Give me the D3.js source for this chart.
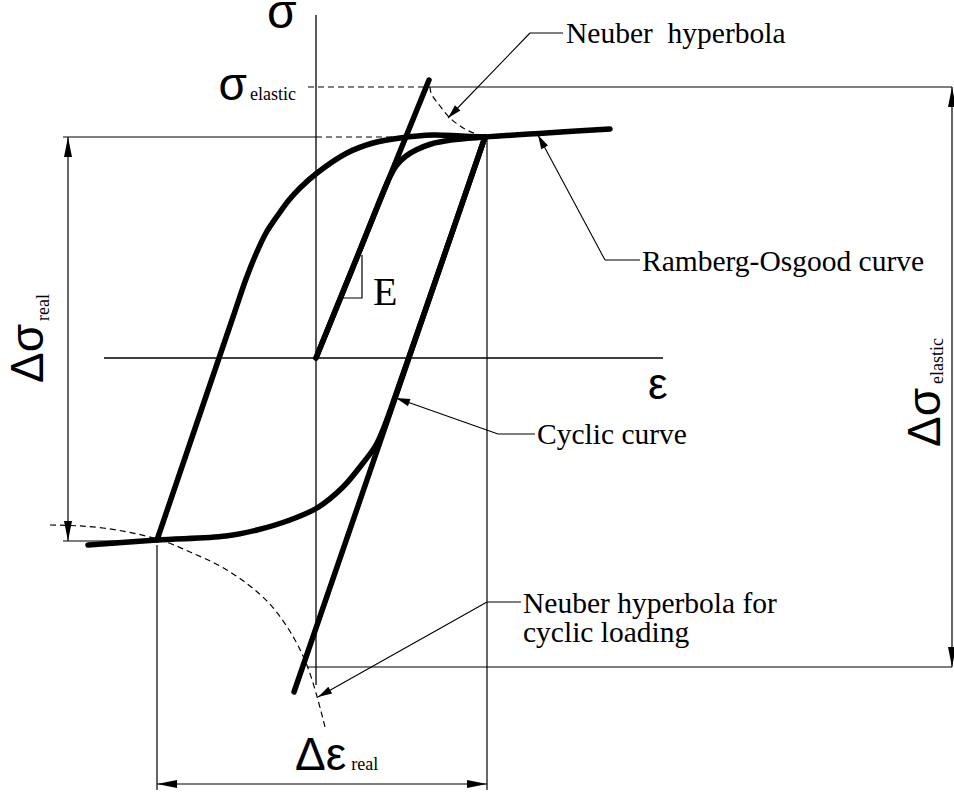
<!DOCTYPE html>
<html>
<head>
<meta charset="utf-8">
<script src="https://cdn.jsdelivr.net/npm/d3@7"></script>
<style>
  html, body { margin: 0; padding: 0; background: #fff; }
  svg { display: block; }
</style>
</head>
<body>
<script>
// Strain ε and stress σ in diagram units; origin is the unloaded state.
const elasticLine = [[0, 0], [1.13, 2.78]];
const rambergOsgood = [[0, 0], [0.40, 0.98], [0.72, 1.77], [0.80, 1.92], [0.90, 2.02], [1.00, 2.08],
  [1.15, 2.14], [1.35, 2.18], [1.69, 2.21], [2.30, 2.25], [2.94, 2.29]];
const ascendingBranch = [[-1.59, -1.82], [-0.84, 0.38], [-0.70, 0.79], [-0.60, 1.04], [-0.50, 1.25],
  [-0.38, 1.43], [-0.27, 1.58], [-0.16, 1.70], [0.01, 1.85], [0.31, 2.05], [0.57, 2.15], [0.84, 2.20],
  [1.17, 2.23], [1.45, 2.22], [1.69, 2.21]];
const unloadingLine = [[1.69, 2.21], [-0.22, -3.34]];
const descendingBranch = [[1.69, 2.21], [1.10, 0.50], [0.80, -0.36], [0.70, -0.64], [0.60, -0.87],
  [0.47, -1.05], [0.27, -1.29], [0.01, -1.50], [-0.26, -1.62], [-0.59, -1.72], [-0.90, -1.78],
  [-1.59, -1.82], [-2.28, -1.87]];
const neuberHyperbola = [[1.14, 2.71], [1.16, 2.63], [1.24, 2.52], [1.34, 2.40], [1.49, 2.29],
  [1.61, 2.24], [1.72, 2.21]];
const neuberCyclic = [[-2.66, -1.67], [-2.13, -1.70], [-1.59, -1.81], [-1.26, -1.94], [-0.96, -2.08],
  [-0.66, -2.28], [-0.41, -2.52], [-0.21, -2.82], [-0.08, -3.10], [0.02, -3.42], [0.09, -3.69]];

// Characteristic levels
const sigmaElastic = 2.71, sigmaElasticMin = -3.09;
const sigmaMax = 2.21, sigmaMin = -1.83;
const epsMax = 1.71, epsMin = -1.59;

// Leader annotations: arrow tip in data units, elbow and label on the page
const annotations = [
  { lines: ["Neuber\u00a0 hyperbola"], tip: [1.32, 2.40], elbow: [530, 33], end: 563, tx: 566, ty: 43 },
  { lines: ["Ramberg-Osgood curve"], tip: [2.22, 2.23], elbow: [605, 260], end: 640, tx: 642, ty: 271 },
  { lines: ["Cyclic curve"], tip: [0.80, -0.40], elbow: [498, 434], end: 535, tx: 537, ty: 444 },
  { lines: ["Neuber hyperbola for", "cyclic loading"], tip: [0.02, -3.39], elbow: [487, 602], end: 521, tx: 523, ty: 613 }
];

const W = 954, H = 794;
const svg = d3.select("body").append("svg").attr("width", W).attr("height", H);

const x = d3.scaleLinear().domain([0, 1]).range([316, 416]);
const y = d3.scaleLinear().domain([0, 1]).range([358, 258]);

const serif = "'Liberation Serif', 'Times New Roman', serif";
const sans = "'Liberation Sans', Arial, sans-serif";

const smooth = d3.line().x(d => x(d[0])).y(d => y(d[1])).curve(d3.curveCatmullRom.alpha(0.5));
const natural = d3.line().x(d => x(d[0])).y(d => y(d[1])).curve(d3.curveNatural);
const straight = d3.line().x(d => x(d[0])).y(d => y(d[1]));

function seg(a, b, opts = {}) {
  svg.append("line")
    .attr("x1", a[0]).attr("y1", a[1]).attr("x2", b[0]).attr("y2", b[1])
    .attr("stroke", "#000").attr("stroke-width", opts.w || 1.2)
    .attr("stroke-dasharray", opts.dash || null);
}
function arrowHead(tip, from, len, half) {
  const dx = tip[0] - from[0], dy = tip[1] - from[1];
  const L = Math.hypot(dx, dy), ux = dx / L, uy = dy / L;
  const bx = tip[0] - ux * len, by = tip[1] - uy * len;
  svg.append("path")
    .attr("d", `M${tip[0]},${tip[1]}L${bx - uy * half},${by + ux * half}L${bx + uy * half},${by - ux * half}Z`)
    .attr("fill", "#000");
}
const P = (e, s) => [x(e), y(s)];

// Axes
seg(P(-2.12, 0), P(3.47, 0), { w: 1.3 });
seg(P(0, 3.43), P(0, -3.27), { w: 1.3 });

// Reference and extension lines
seg(P(-0.08, sigmaElastic), P(1.14, sigmaElastic), { dash: "6,4" });
seg(P(1.14, sigmaElastic), P(6.36, sigmaElastic));
seg(P(-2.53, sigmaMax), P(0, sigmaMax));
seg(P(0, sigmaMax), P(0.89, sigmaMax), { dash: "6,4", w: 1 });
seg(P(-2.53, sigmaMin), P(epsMin, sigmaMin));
seg(P(-0.09, sigmaElasticMin), P(6.36, sigmaElasticMin));
seg(P(epsMax, sigmaMax), P(epsMax, -4.32));
seg(P(epsMin, -1.87), P(epsMin, -4.32));

// Dimension lines
function dimension(a, b) {
  seg(a, b);
  arrowHead(a, b, 20, 4);
  arrowHead(b, a, 20, 4);
}
dimension(P(-2.48, sigmaMax), P(-2.48, sigmaMin));
dimension(P(6.36, sigmaElastic), P(6.36, sigmaElasticMin));
dimension(P(epsMin, -4.26), P(epsMax, -4.26));

// Neuber hyperbolas (dashed)
svg.append("path").attr("d", natural(neuberHyperbola)).attr("fill", "none")
  .attr("stroke", "#000").attr("stroke-width", 1.2).attr("stroke-dasharray", "6,4");
svg.append("path").attr("d", natural(neuberCyclic)).attr("fill", "none")
  .attr("stroke", "#000").attr("stroke-width", 1.2).attr("stroke-dasharray", "6,4");

// Slope triangle for E
const tri = [[0.27, 0.60], [0.46, 0.60], [0.46, 1.03]];
svg.append("path").attr("d", straight(tri)).attr("fill", "none").attr("stroke", "#000").attr("stroke-width", 1.2);

// Stress–strain curves
const thick = { stroke: "#000", "stroke-width": 5.5, fill: "none", "stroke-linecap": "round", "stroke-linejoin": "round" };
function thickPath(d) {
  const p = svg.append("path").attr("d", d);
  Object.entries(thick).forEach(([k, v]) => p.attr(k, v));
}
thickPath(straight(elasticLine));
thickPath(smooth(rambergOsgood));
thickPath(smooth(ascendingBranch));
thickPath(straight(unloadingLine));
thickPath(smooth(descendingBranch));

// Leaders and labels
annotations.forEach(a => {
  const tip = P(a.tip[0], a.tip[1]);
  seg(a.elbow, [a.end, a.elbow[1]], { w: 1.1 });
  seg(a.elbow, tip, { w: 1.1 });
  arrowHead(tip, a.elbow, 14, 3.8);
  a.lines.forEach((s, i) => {
    svg.append("text").attr("x", a.tx).attr("y", a.ty + i * 28.5)
      .attr("font-family", serif).attr("font-size", 29.5).attr("fill", "#000").text(s);
  });
});

// Axis symbols
svg.append("text").attr("x", 267).attr("y", 28).attr("font-family", sans).attr("font-size", 48).text("σ");
svg.append("text").attr("x", 648).attr("y", 399).attr("font-family", sans).attr("font-size", 44).text("ε");

// σ_elastic
svg.append("text").attr("x", 247).attr("y", 100).attr("text-anchor", "end")
  .attr("font-family", sans).attr("font-size", 46).text("σ");
svg.append("text").attr("x", 250).attr("y", 100).attr("font-family", serif).attr("font-size", 18).text("elastic");

// E
svg.append("text").attr("x", 373).attr("y", 305).attr("font-family", serif).attr("font-size", 40).text("E");

// Δσ_real (vertical)
const dsr = svg.append("text").attr("transform", "translate(43,383) rotate(-90)")
  .attr("font-family", sans).attr("font-size", 46);
dsr.append("tspan").text("Δσ");
dsr.append("tspan").attr("font-family", serif).attr("font-size", 18).attr("dx", 3).attr("dy", 6).text("real");

// Δσ_elastic (vertical)
const dse = svg.append("text").attr("transform", "translate(940,447) rotate(-90)")
  .attr("font-family", sans).attr("font-size", 46);
dse.append("tspan").text("Δσ");
dse.append("tspan").attr("font-family", serif).attr("font-size", 18).attr("dx", 4).attr("dy", 3).text("elastic");

// Δε_real
const der = svg.append("text").attr("x", 295).attr("y", 770).attr("font-family", sans).attr("font-size", 46);
der.append("tspan").text("Δε");
der.append("tspan").attr("font-family", serif).attr("font-size", 18).attr("dx", 5).text("real");
</script>
</body>
</html>
